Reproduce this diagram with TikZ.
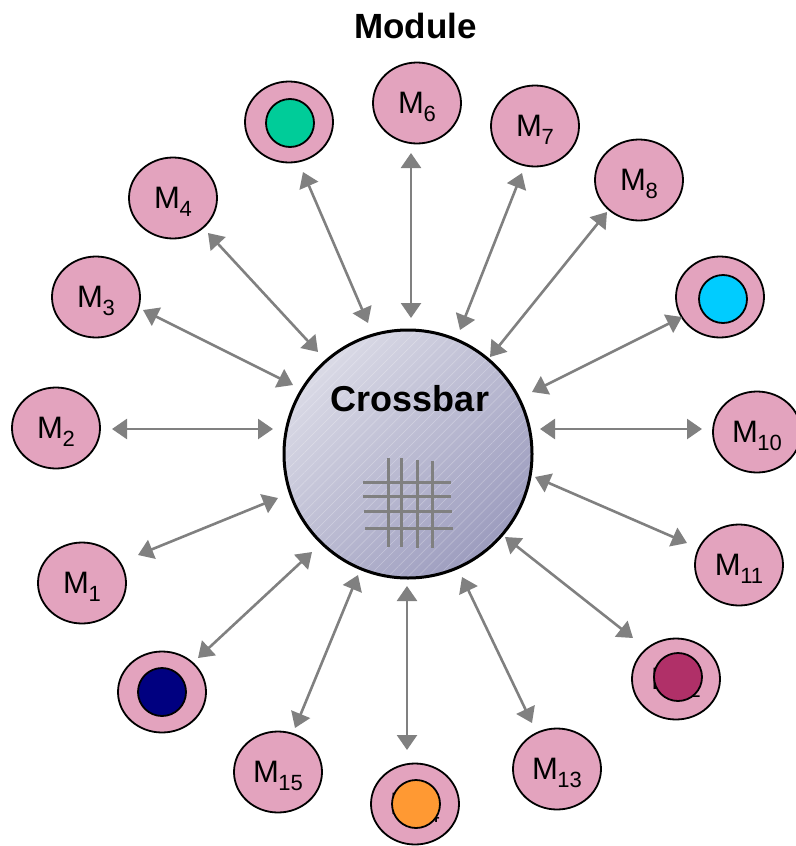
\documentclass[tikz,border=0pt]{standalone}
\usepackage{fontspec}
\setmainfont{Liberation Sans}
\usetikzlibrary{shapes.geometric,arrows.meta,patterns.meta}
\definecolor{modpink}{RGB}{227,163,190}
\definecolor{linkgray}{RGB}{128,128,128}
\definecolor{cbLight}{RGB}{218,218,230}
\definecolor{cbDark}{RGB}{156,156,190}
\definecolor{cGreen}{RGB}{0,204,153}
\definecolor{cCyan}{RGB}{0,204,255}
\definecolor{cNavy}{RGB}{0,0,128}
\definecolor{cMagenta}{RGB}{176,48,104}
\definecolor{cOrange}{RGB}{255,153,51}
\newcommand\modlab[1]{M\kern-0.5bp\smash{\raisebox{-8bp}{\fontsize{22bp}{22bp}\selectfont #1}}}
\begin{document}
\begin{tikzpicture}[x=1bp,y=-1bp,
  module/.style={ellipse, draw=black, line width=1.8bp, fill=modpink,
    minimum width=88bp, minimum height=81bp, inner sep=0pt,
    font=\fontsize{31bp}{31bp}\selectfont},
  core/.style={circle, draw=black, line width=1.8bp, minimum size=48bp, inner sep=0pt},
  link/.style={draw=linkgray, line width=2.6bp,
    {Triangle[length=15bp,width=20bp]}-{Triangle[length=15bp,width=20bp]}},
  gridline/.style={draw=linkgray, line width=3bp},
  title/.style={font=\bfseries\fontsize{35bp}{40bp}\selectfont, inner sep=0pt}
]
\useasboundingbox (0,0) rectangle (796,846);

% title
\node[title] (ttl) at (415.5,26) {Module};

% crossbar
\node[circle, minimum size=248bp, inner sep=0pt, draw=black, line width=3bp,
  top color=cbLight, bottom color=cbDark, shading angle=45] (cb) at (408,454) {};
\path[pattern={Lines[angle=45,distance=7bp,line width=0.5bp]}, pattern color=white, opacity=0.3]
  (cb.center) circle[radius=122bp];
\node[title, font=\bfseries\fontsize{36bp}{40bp}\selectfont] (cbt) at (410,399) {Crossbar};

% grid icon
\coordinate (g1t) at (388,458); \coordinate (g1b) at (388,547);
\coordinate (g2t) at (401,458); \coordinate (g2b) at (401,547);
\coordinate (g3t) at (417,460); \coordinate (g3b) at (417,548);
\coordinate (g4t) at (432,461); \coordinate (g4b) at (432,548);
\coordinate (h1l) at (363,482); \coordinate (h1r) at (451,482);
\coordinate (h2l) at (363,496); \coordinate (h2r) at (451,496);
\coordinate (h3l) at (364,511); \coordinate (h3r) at (452,511);
\coordinate (h4l) at (365,528); \coordinate (h4r) at (453,528);
\foreach \a/\b in {g1t/g1b,g2t/g2b,g3t/g3b,g4t/g4b,h1l/h1r,h2l/h2r,h3l/h3r,h4l/h4r}
  \draw[gridline] (\a) -- (\b);

% modules
\node[module] (m1)  at (82,583)  {\modlab{1}};
\node[module] (m2)  at (56,428)  {\modlab{2}};
\node[module] (m3)  at (96,297)  {\modlab{3}};
\node[module] (m4)  at (173,198) {\modlab{4}};
\node[module] (m5)  at (289,122) {};
\node[module] (m6)  at (417,103) {\modlab{6}};
\node[module] (m7)  at (535,126) {\modlab{7}};
\node[module] (m8)  at (639,180) {\modlab{8}};
\node[module] (m9)  at (720,297) {};
\node[module] (m10) at (757,432) {\modlab{10}};
\node[module] (m11) at (739,565) {\modlab{11}};
\node[module] (m12) at (676,679) {\modlab{12}};
\node[module] (m13) at (557,769) {\modlab{13}};
\node[module] (m14) at (415,804) {\modlab{14}};
\node[module] (m15) at (278,772) {\modlab{15}};
\node[module] (m16) at (162,692) {};

% coloured cores
\node[core, fill=cGreen]   (k5)  at (290,123) {};
\node[core, fill=cCyan]    (k9)  at (723,299) {};
\node[core, fill=cNavy]    (k16) at (162,692) {};
\node[core, fill=cMagenta] (k12) at (678,677) {};
\node[core, fill=cOrange]  (k14) at (416,804) {};

% connector end points
\coordinate (a1m) at (138,555);  \coordinate (a1c) at (278,498);
\coordinate (a2m) at (112,429);  \coordinate (a2c) at (273,429);
\coordinate (a3m) at (143,310);  \coordinate (a3c) at (293,385);
\coordinate (a4m) at (208,233);  \coordinate (a4c) at (318,352);
\coordinate (a5m) at (303,172);  \coordinate (a5c) at (368,323);
\coordinate (a6m) at (411,153);  \coordinate (a6c) at (411,318);
\coordinate (a7m) at (522,173);  \coordinate (a7c) at (460,330);
\coordinate (a8m) at (607,212);  \coordinate (a8c) at (490,357);
\coordinate (a9m) at (682,317);  \coordinate (a9c) at (532,392);
\coordinate (a10m) at (702,429); \coordinate (a10c) at (540,429);
\coordinate (a11m) at (687,543); \coordinate (a11c) at (535,477);
\coordinate (a12m) at (633,638); \coordinate (a12c) at (505,537);
\coordinate (a13m) at (532,723); \coordinate (a13c) at (462,577);
\coordinate (a14m) at (407,750); \coordinate (a14c) at (407,586);
\coordinate (a15m) at (295,728); \coordinate (a15c) at (358,575);
\coordinate (a16m) at (198,658); \coordinate (a16c) at (312,552);

\foreach \i in {1,...,16}
  \draw[link] (a\i m) -- (a\i c);
\end{tikzpicture}
\end{document}
